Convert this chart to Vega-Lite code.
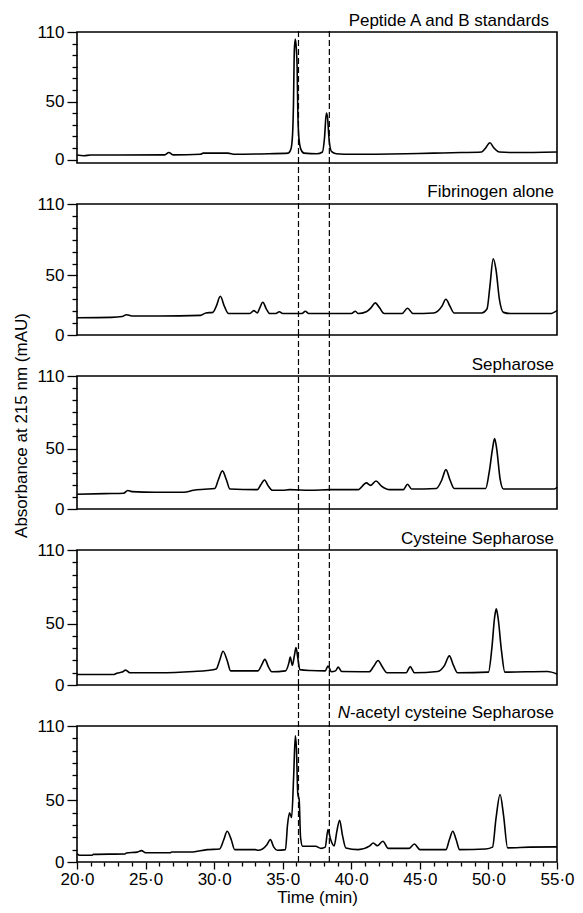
{
  "$schema": "https://vega.github.io/schema/vega-lite/v6.json",
  "autosize": {"type": "pad"},
  "padding": {"left": 12, "top": 11, "right": 2, "bottom": 2},
  "background": "white",
  "bounds": "flush",
  "spacing": 41,
  "config": {
    "font": "Liberation Sans",
    "view": {"stroke": "black", "strokeWidth": 1.6},
    "axis": {"grid": false, "domain": false, "labelFontSize": 17, "labelColor": "black", "tickColor": "black", "tickWidth": 1.3, "titleFontSize": 17, "titleFontWeight": "normal", "titleColor": "black", "labelFlush": false, "labelOverlap": false, "labelBound": false, "labelPadding": 3},
    "axisY": {"tickSize": 10},
    "axisX": {"tickSize": 7},
    "text": {"fontSize": 17, "color": "black", "font": "Liberation Sans"}
  },
  "datasets": {
    "cuts": [{"t": 36.15}, {"t": 38.4}],
    "trace": [
      {"panel": 1, "t": 20, "a": 3.9}, {"panel": 1, "t": 20.5, "a": 3.3}, {"panel": 1, "t": 21, "a": 3.9}, {"panel": 1, "t": 23, "a": 3.9}, {"panel": 1, "t": 26.4, "a": 4}, {"panel": 1, "t": 26.7, "a": 6}, {"panel": 1, "t": 27, "a": 4}, {"panel": 1, "t": 29, "a": 4.5}, {"panel": 1, "t": 29.2, "a": 5.5}, {"panel": 1, "t": 31, "a": 5.5}, {"panel": 1, "t": 31.5, "a": 4.5}, {"panel": 1, "t": 34, "a": 5}, {"panel": 1, "t": 35.4, "a": 5.5}, {"panel": 1, "t": 35.6, "a": 9}, {"panel": 1, "t": 35.72, "a": 22}, {"panel": 1, "t": 35.78, "a": 45}, {"panel": 1, "t": 35.85, "a": 95}, {"panel": 1, "t": 35.92, "a": 104}, {"panel": 1, "t": 35.99, "a": 96}, {"panel": 1, "t": 36.05, "a": 80}, {"panel": 1, "t": 36.1, "a": 42}, {"panel": 1, "t": 36.17, "a": 20}, {"panel": 1, "t": 36.32, "a": 9}, {"panel": 1, "t": 36.55, "a": 5.5}, {"panel": 1, "t": 37.5, "a": 5}, {"panel": 1, "t": 37.9, "a": 6.5}, {"panel": 1, "t": 38.05, "a": 19}, {"panel": 1, "t": 38.18, "a": 40}, {"panel": 1, "t": 38.27, "a": 36}, {"panel": 1, "t": 38.37, "a": 19}, {"panel": 1, "t": 38.55, "a": 7}, {"panel": 1, "t": 38.9, "a": 5}, {"panel": 1, "t": 40, "a": 4.5}, {"panel": 1, "t": 44, "a": 5}, {"panel": 1, "t": 46, "a": 5.5}, {"panel": 1, "t": 48, "a": 6}, {"panel": 1, "t": 49.5, "a": 6.5}, {"panel": 1, "t": 49.8, "a": 10}, {"panel": 1, "t": 50.1, "a": 14.5}, {"panel": 1, "t": 50.4, "a": 10}, {"panel": 1, "t": 50.8, "a": 6.5}, {"panel": 1, "t": 52, "a": 6}, {"panel": 1, "t": 55, "a": 6.5},
      {"panel": 2, "t": 20, "a": 14.5}, {"panel": 2, "t": 22.5, "a": 14.8}, {"panel": 2, "t": 23.3, "a": 15.5}, {"panel": 2, "t": 23.6, "a": 17}, {"panel": 2, "t": 24, "a": 16}, {"panel": 2, "t": 26, "a": 16}, {"panel": 2, "t": 29, "a": 16.5}, {"panel": 2, "t": 29.4, "a": 18.5}, {"panel": 2, "t": 29.9, "a": 19}, {"panel": 2, "t": 30.15, "a": 24}, {"panel": 2, "t": 30.45, "a": 32.5}, {"panel": 2, "t": 30.75, "a": 24}, {"panel": 2, "t": 31.05, "a": 18}, {"panel": 2, "t": 32.6, "a": 18}, {"panel": 2, "t": 32.9, "a": 20.5}, {"panel": 2, "t": 33.15, "a": 18.5}, {"panel": 2, "t": 33.3, "a": 22}, {"panel": 2, "t": 33.55, "a": 27.5}, {"panel": 2, "t": 33.8, "a": 22}, {"panel": 2, "t": 34.05, "a": 18}, {"panel": 2, "t": 34.5, "a": 18}, {"panel": 2, "t": 34.75, "a": 19.5}, {"panel": 2, "t": 35, "a": 18}, {"panel": 2, "t": 36.4, "a": 18}, {"panel": 2, "t": 36.65, "a": 20}, {"panel": 2, "t": 36.9, "a": 18}, {"panel": 2, "t": 40, "a": 18}, {"panel": 2, "t": 40.3, "a": 20}, {"panel": 2, "t": 40.5, "a": 18}, {"panel": 2, "t": 41.1, "a": 19.5}, {"panel": 2, "t": 41.45, "a": 23}, {"panel": 2, "t": 41.75, "a": 27}, {"panel": 2, "t": 42.05, "a": 23}, {"panel": 2, "t": 42.4, "a": 18}, {"panel": 2, "t": 43.7, "a": 18}, {"panel": 2, "t": 44.1, "a": 22.5}, {"panel": 2, "t": 44.5, "a": 18}, {"panel": 2, "t": 46, "a": 18.5}, {"panel": 2, "t": 46.3, "a": 20}, {"panel": 2, "t": 46.6, "a": 24}, {"panel": 2, "t": 46.9, "a": 30}, {"panel": 2, "t": 47.2, "a": 24}, {"panel": 2, "t": 47.5, "a": 18.5}, {"panel": 2, "t": 49.5, "a": 18.5}, {"panel": 2, "t": 49.9, "a": 22}, {"panel": 2, "t": 50.1, "a": 40}, {"panel": 2, "t": 50.35, "a": 64}, {"panel": 2, "t": 50.55, "a": 55}, {"panel": 2, "t": 50.8, "a": 30}, {"panel": 2, "t": 51.1, "a": 19}, {"panel": 2, "t": 51.6, "a": 18}, {"panel": 2, "t": 54.5, "a": 18}, {"panel": 2, "t": 55, "a": 20.5},
      {"panel": 3, "t": 20, "a": 12.2}, {"panel": 3, "t": 22, "a": 12.7}, {"panel": 3, "t": 23.4, "a": 13}, {"panel": 3, "t": 23.7, "a": 15.3}, {"panel": 3, "t": 24, "a": 14.4}, {"panel": 3, "t": 25.7, "a": 13.8}, {"panel": 3, "t": 27.8, "a": 13.8}, {"panel": 3, "t": 28.5, "a": 15.5}, {"panel": 3, "t": 29.3, "a": 16.3}, {"panel": 3, "t": 30.05, "a": 17}, {"panel": 3, "t": 30.3, "a": 24}, {"panel": 3, "t": 30.6, "a": 31.5}, {"panel": 3, "t": 30.9, "a": 24}, {"panel": 3, "t": 31.15, "a": 16.5}, {"panel": 3, "t": 33.15, "a": 16}, {"panel": 3, "t": 33.4, "a": 20}, {"panel": 3, "t": 33.67, "a": 24}, {"panel": 3, "t": 33.95, "a": 19}, {"panel": 3, "t": 34.25, "a": 15.5}, {"panel": 3, "t": 35, "a": 15.5}, {"panel": 3, "t": 35.5, "a": 16}, {"panel": 3, "t": 37, "a": 15.5}, {"panel": 3, "t": 38.5, "a": 16}, {"panel": 3, "t": 40.5, "a": 16}, {"panel": 3, "t": 41.1, "a": 21.6}, {"panel": 3, "t": 41.4, "a": 19.5}, {"panel": 3, "t": 41.8, "a": 23.2}, {"panel": 3, "t": 42.2, "a": 19}, {"panel": 3, "t": 42.8, "a": 16}, {"panel": 3, "t": 43.8, "a": 16}, {"panel": 3, "t": 44.1, "a": 20.5}, {"panel": 3, "t": 44.4, "a": 16.5}, {"panel": 3, "t": 46.2, "a": 17}, {"panel": 3, "t": 46.6, "a": 24}, {"panel": 3, "t": 46.9, "a": 32.6}, {"panel": 3, "t": 47.2, "a": 24}, {"panel": 3, "t": 47.5, "a": 17}, {"panel": 3, "t": 49.8, "a": 17}, {"panel": 3, "t": 50.05, "a": 30}, {"panel": 3, "t": 50.3, "a": 50}, {"panel": 3, "t": 50.45, "a": 58.3}, {"panel": 3, "t": 50.6, "a": 50}, {"panel": 3, "t": 50.85, "a": 25}, {"panel": 3, "t": 51.1, "a": 16.5}, {"panel": 3, "t": 54.8, "a": 16.5}, {"panel": 3, "t": 55, "a": 18},
      {"panel": 4, "t": 20, "a": 8.5}, {"panel": 4, "t": 22.7, "a": 8.6}, {"panel": 4, "t": 22.9, "a": 9.6}, {"panel": 4, "t": 23.3, "a": 10.5}, {"panel": 4, "t": 23.55, "a": 12.1}, {"panel": 4, "t": 23.85, "a": 10}, {"panel": 4, "t": 26, "a": 10}, {"panel": 4, "t": 28.5, "a": 11}, {"panel": 4, "t": 29.5, "a": 11.8}, {"panel": 4, "t": 30.15, "a": 13}, {"panel": 4, "t": 30.4, "a": 20}, {"panel": 4, "t": 30.65, "a": 27.5}, {"panel": 4, "t": 30.95, "a": 20}, {"panel": 4, "t": 31.2, "a": 11.5}, {"panel": 4, "t": 33.2, "a": 11.5}, {"panel": 4, "t": 33.45, "a": 16}, {"panel": 4, "t": 33.7, "a": 20.9}, {"panel": 4, "t": 33.95, "a": 15}, {"panel": 4, "t": 34.2, "a": 10.8}, {"panel": 4, "t": 35.2, "a": 11.5}, {"panel": 4, "t": 35.45, "a": 18}, {"panel": 4, "t": 35.55, "a": 22.8}, {"panel": 4, "t": 35.7, "a": 16}, {"panel": 4, "t": 35.85, "a": 24}, {"panel": 4, "t": 35.97, "a": 30.5}, {"panel": 4, "t": 36.1, "a": 22}, {"panel": 4, "t": 36.25, "a": 12.5}, {"panel": 4, "t": 37, "a": 11.8}, {"panel": 4, "t": 38.1, "a": 11.5}, {"panel": 4, "t": 38.3, "a": 15.4}, {"panel": 4, "t": 38.55, "a": 10.8}, {"panel": 4, "t": 38.85, "a": 11.5}, {"panel": 4, "t": 39.05, "a": 14.6}, {"panel": 4, "t": 39.3, "a": 11}, {"panel": 4, "t": 41.3, "a": 10.8}, {"panel": 4, "t": 41.65, "a": 15.5}, {"panel": 4, "t": 41.95, "a": 20}, {"panel": 4, "t": 42.25, "a": 15}, {"panel": 4, "t": 42.6, "a": 10}, {"panel": 4, "t": 44, "a": 10}, {"panel": 4, "t": 44.3, "a": 15}, {"panel": 4, "t": 44.6, "a": 10}, {"panel": 4, "t": 46.3, "a": 11}, {"panel": 4, "t": 46.8, "a": 16}, {"panel": 4, "t": 47.15, "a": 23.7}, {"panel": 4, "t": 47.45, "a": 16}, {"panel": 4, "t": 47.75, "a": 10}, {"panel": 4, "t": 50, "a": 10.5}, {"panel": 4, "t": 50.25, "a": 30}, {"panel": 4, "t": 50.45, "a": 55}, {"panel": 4, "t": 50.57, "a": 62}, {"panel": 4, "t": 50.7, "a": 55}, {"panel": 4, "t": 50.95, "a": 28}, {"panel": 4, "t": 51.2, "a": 10.5}, {"panel": 4, "t": 54.3, "a": 11}, {"panel": 4, "t": 55, "a": 9},
      {"panel": 5, "t": 20, "a": 6.8}, {"panel": 5, "t": 20.2, "a": 5.4}, {"panel": 5, "t": 21.1, "a": 5.4}, {"panel": 5, "t": 21.2, "a": 6.2}, {"panel": 5, "t": 23.5, "a": 6.5}, {"panel": 5, "t": 23.6, "a": 7.3}, {"panel": 5, "t": 24.4, "a": 8}, {"panel": 5, "t": 24.7, "a": 9.2}, {"panel": 5, "t": 25, "a": 7.5}, {"panel": 5, "t": 26.8, "a": 7.5}, {"panel": 5, "t": 26.9, "a": 8.1}, {"panel": 5, "t": 28.3, "a": 8.1}, {"panel": 5, "t": 29.5, "a": 10}, {"panel": 5, "t": 30.4, "a": 10.5}, {"panel": 5, "t": 30.7, "a": 18}, {"panel": 5, "t": 30.95, "a": 24.9}, {"panel": 5, "t": 31.25, "a": 18}, {"panel": 5, "t": 31.5, "a": 10}, {"panel": 5, "t": 33, "a": 10}, {"panel": 5, "t": 33.2, "a": 9.5}, {"panel": 5, "t": 33.85, "a": 14}, {"panel": 5, "t": 34.1, "a": 18.1}, {"panel": 5, "t": 34.35, "a": 12}, {"panel": 5, "t": 34.6, "a": 9.5}, {"panel": 5, "t": 35.2, "a": 10}, {"panel": 5, "t": 35.35, "a": 30}, {"panel": 5, "t": 35.5, "a": 39.7}, {"panel": 5, "t": 35.65, "a": 36}, {"panel": 5, "t": 35.8, "a": 70}, {"panel": 5, "t": 35.92, "a": 102}, {"panel": 5, "t": 36.0, "a": 92}, {"panel": 5, "t": 36.1, "a": 55}, {"panel": 5, "t": 36.2, "a": 50.5}, {"panel": 5, "t": 36.3, "a": 20}, {"panel": 5, "t": 36.45, "a": 12.7}, {"panel": 5, "t": 37.4, "a": 12.7}, {"panel": 5, "t": 37.8, "a": 11}, {"panel": 5, "t": 38.1, "a": 12}, {"panel": 5, "t": 38.3, "a": 26.2}, {"panel": 5, "t": 38.5, "a": 18}, {"panel": 5, "t": 38.75, "a": 13}, {"panel": 5, "t": 38.95, "a": 25}, {"panel": 5, "t": 39.15, "a": 33.8}, {"panel": 5, "t": 39.35, "a": 22}, {"panel": 5, "t": 39.6, "a": 11.4}, {"panel": 5, "t": 40.5, "a": 10}, {"panel": 5, "t": 41.35, "a": 13}, {"panel": 5, "t": 41.6, "a": 15.4}, {"panel": 5, "t": 41.9, "a": 13.2}, {"panel": 5, "t": 42.3, "a": 16.8}, {"panel": 5, "t": 42.7, "a": 11}, {"panel": 5, "t": 44.2, "a": 11}, {"panel": 5, "t": 44.6, "a": 14.6}, {"panel": 5, "t": 45, "a": 10}, {"panel": 5, "t": 46.9, "a": 10}, {"panel": 5, "t": 47.15, "a": 18}, {"panel": 5, "t": 47.4, "a": 24.9}, {"panel": 5, "t": 47.65, "a": 18}, {"panel": 5, "t": 47.9, "a": 10}, {"panel": 5, "t": 49.8, "a": 10.5}, {"panel": 5, "t": 50.3, "a": 12}, {"panel": 5, "t": 50.55, "a": 35}, {"panel": 5, "t": 50.85, "a": 54.6}, {"panel": 5, "t": 51.1, "a": 38}, {"panel": 5, "t": 51.4, "a": 11.4}, {"panel": 5, "t": 53, "a": 12}, {"panel": 5, "t": 55, "a": 12.2}
    ]
  },
  "vconcat": [
    {
      "width": 480, "height": 131,
      "resolve": {"axis": {"x": "independent", "y": "independent"}},
      "layer": [
        {"data": {"name": "trace"}, "transform": [{"filter": "datum.panel == 1"}],
         "mark": {"type": "line", "color": "black", "strokeWidth": 1.6, "interpolate": "monotone"},
         "encoding": {
           "x": {"field": "t", "type": "quantitative", "scale": {"domain": [20, 55], "nice": false}, "axis": null},
           "y": {"field": "a", "type": "quantitative", "scale": {"domain": [-3, 110], "nice": false, "zero": false},
                 "axis": {"values": [0, 50, 110], "title": null, "orient": "left"}}
         }},
        {"data": {"name": "trace"}, "transform": [{"filter": "datum.panel == 1"}],
         "mark": {"type": "line", "strokeOpacity": 0},
         "encoding": {
           "x": {"field": "t", "type": "quantitative", "axis": null},
           "y": {"field": "a", "type": "quantitative", "axis": {"values": [10, 20, 30, 40, 60, 70, 80, 90, 100], "labels": false, "tickSize": 5, "title": null, "orient": "left"}}
         }},
        {"data": {"name": "cuts"}, "mark": {"type": "rule", "color": "black", "strokeWidth": 1.2, "strokeDash": [6, 3], "clip": false, "y2Offset": -3},
         "encoding": {"x": {"field": "t", "type": "quantitative", "axis": null}, "y": {"datum": -3, "axis": null}, "y2": {"datum": 110}}},
        {"data": {"values": [{"label": "Peptide A and B standards"}]}, "mark": {"type": "text", "align": "right", "baseline": "alphabetic", "dx": -8, "dy": -6, "clip": false},
         "encoding": {"x": {"datum": 55, "axis": null}, "y": {"datum": 110, "axis": null}, "text": {"field": "label"}}}
      ]
    },
    {
      "width": 480, "height": 131,
      "resolve": {"axis": {"x": "independent", "y": "independent"}},
      "layer": [
        {"data": {"name": "trace"}, "transform": [{"filter": "datum.panel == 2"}],
         "mark": {"type": "line", "color": "black", "strokeWidth": 1.6, "interpolate": "monotone"},
         "encoding": {
           "x": {"field": "t", "type": "quantitative", "scale": {"domain": [20, 55], "nice": false}, "axis": null},
           "y": {"field": "a", "type": "quantitative", "scale": {"domain": [0, 110], "nice": false, "zero": false},
                 "axis": {"values": [0, 50, 110], "title": null, "orient": "left"}}
         }},
        {"data": {"name": "trace"}, "transform": [{"filter": "datum.panel == 2"}],
         "mark": {"type": "line", "strokeOpacity": 0},
         "encoding": {
           "x": {"field": "t", "type": "quantitative", "axis": null},
           "y": {"field": "a", "type": "quantitative", "axis": {"values": [10, 20, 30, 40, 60, 70, 80, 90, 100], "labels": false, "tickSize": 5, "title": null, "orient": "left"}}
         }},
        {"data": {"name": "cuts"}, "mark": {"type": "rule", "color": "black", "strokeWidth": 1.2, "strokeDash": [6, 3], "clip": false, "y2Offset": -41},
         "encoding": {"x": {"field": "t", "type": "quantitative", "axis": null}, "y": {"datum": 0, "axis": null}, "y2": {"datum": 110}}},
        {"data": {"values": [{"label": "Fibrinogen alone"}]}, "mark": {"type": "text", "align": "right", "baseline": "alphabetic", "dx": -3, "dy": -7, "clip": false},
         "encoding": {"x": {"datum": 55, "axis": null}, "y": {"datum": 110, "axis": null}, "text": {"field": "label"}}}
      ]
    },
    {
      "width": 480, "height": 133,
      "resolve": {"axis": {"x": "independent", "y": "independent"}},
      "layer": [
        {"data": {"name": "trace"}, "transform": [{"filter": "datum.panel == 3"}],
         "mark": {"type": "line", "color": "black", "strokeWidth": 1.6, "interpolate": "monotone"},
         "encoding": {
           "x": {"field": "t", "type": "quantitative", "scale": {"domain": [20, 55], "nice": false}, "axis": null},
           "y": {"field": "a", "type": "quantitative", "scale": {"domain": [0, 110], "nice": false, "zero": false},
                 "axis": {"values": [0, 50, 110], "title": "Absorbance at 215 nm (mAU)", "titlePadding": 6, "titleY": 49, "orient": "left"}}
         }},
        {"data": {"name": "trace"}, "transform": [{"filter": "datum.panel == 3"}],
         "mark": {"type": "line", "strokeOpacity": 0},
         "encoding": {
           "x": {"field": "t", "type": "quantitative", "axis": null},
           "y": {"field": "a", "type": "quantitative", "axis": {"values": [10, 20, 30, 40, 60, 70, 80, 90, 100], "labels": false, "tickSize": 5, "title": null, "orient": "left"}}
         }},
        {"data": {"name": "cuts"}, "mark": {"type": "rule", "color": "black", "strokeWidth": 1.2, "strokeDash": [6, 3], "clip": false, "y2Offset": -41},
         "encoding": {"x": {"field": "t", "type": "quantitative", "axis": null}, "y": {"datum": 0, "axis": null}, "y2": {"datum": 110}}},
        {"data": {"values": [{"label": "Sepharose"}]}, "mark": {"type": "text", "align": "right", "baseline": "alphabetic", "dx": -3, "dy": -6, "clip": false},
         "encoding": {"x": {"datum": 55, "axis": null}, "y": {"datum": 110, "axis": null}, "text": {"field": "label"}}}
      ]
    },
    {
      "width": 480, "height": 135,
      "resolve": {"axis": {"x": "independent", "y": "independent"}},
      "layer": [
        {"data": {"name": "trace"}, "transform": [{"filter": "datum.panel == 4"}],
         "mark": {"type": "line", "color": "black", "strokeWidth": 1.6, "interpolate": "monotone"},
         "encoding": {
           "x": {"field": "t", "type": "quantitative", "scale": {"domain": [20, 55], "nice": false}, "axis": null},
           "y": {"field": "a", "type": "quantitative", "scale": {"domain": [0, 110], "nice": false, "zero": false},
                 "axis": {"values": [0, 50, 110], "title": null, "orient": "left"}}
         }},
        {"data": {"name": "trace"}, "transform": [{"filter": "datum.panel == 4"}],
         "mark": {"type": "line", "strokeOpacity": 0},
         "encoding": {
           "x": {"field": "t", "type": "quantitative", "axis": null},
           "y": {"field": "a", "type": "quantitative", "axis": {"values": [10, 20, 30, 40, 60, 70, 80, 90, 100], "labels": false, "tickSize": 5, "title": null, "orient": "left"}}
         }},
        {"data": {"name": "cuts"}, "mark": {"type": "rule", "color": "black", "strokeWidth": 1.2, "strokeDash": [6, 3], "clip": false, "y2Offset": -41},
         "encoding": {"x": {"field": "t", "type": "quantitative", "axis": null}, "y": {"datum": 0, "axis": null}, "y2": {"datum": 110}}},
        {"data": {"values": [{"label": "Cysteine Sepharose"}]}, "mark": {"type": "text", "align": "right", "baseline": "alphabetic", "dx": -3, "dy": -6, "clip": false},
         "encoding": {"x": {"datum": 55, "axis": null}, "y": {"datum": 110, "axis": null}, "text": {"field": "label"}}}
      ]
    },
    {
      "width": 480, "height": 136,
      "resolve": {"axis": {"x": "independent", "y": "independent"}},
      "layer": [
        {"data": {"name": "trace"}, "transform": [{"filter": "datum.panel == 5"}],
         "mark": {"type": "line", "color": "black", "strokeWidth": 1.6, "interpolate": "monotone"},
         "encoding": {
           "x": {"field": "t", "type": "quantitative", "scale": {"domain": [20, 55], "nice": false},
                 "axis": {"values": [20, 25, 30, 35, 40, 45, 50, 55], "title": "Time (min)", "titlePadding": 2, "labelPadding": 2, "orient": "bottom",
                          "labelExpr": "replace(format(datum.value, '.1f'), '.', '·')"}},
           "y": {"field": "a", "type": "quantitative", "scale": {"domain": [0, 110], "nice": false, "zero": false},
                 "axis": {"values": [0, 50, 110], "title": null, "orient": "left"}}
         }},
        {"data": {"name": "trace"}, "transform": [{"filter": "datum.panel == 5"}],
         "mark": {"type": "line", "strokeOpacity": 0},
         "encoding": {
           "x": {"field": "t", "type": "quantitative",
                 "axis": {"values": [21, 22, 23, 24, 26, 27, 28, 29, 31, 32, 33, 34, 36, 37, 38, 39, 41, 42, 43, 44, 46, 47, 48, 49, 51, 52, 53, 54], "labels": false, "tickSize": 4, "title": null, "orient": "bottom"}},
           "y": {"field": "a", "type": "quantitative", "axis": {"values": [10, 20, 30, 40, 60, 70, 80, 90, 100], "labels": false, "tickSize": 5, "title": null, "orient": "left"}}
         }},
        {"data": {"name": "cuts"}, "mark": {"type": "rule", "color": "black", "strokeWidth": 1.2, "strokeDash": [6, 3], "clip": false, "y2Offset": -41},
         "encoding": {"x": {"field": "t", "type": "quantitative", "axis": null}, "y": {"datum": 0, "axis": null}, "y2": {"datum": 110}}},
        {"data": {"values": [{"label": "-acetyl cysteine Sepharose"}]}, "mark": {"type": "text", "align": "right", "baseline": "alphabetic", "dx": -3, "dy": -8, "clip": false},
         "encoding": {"x": {"datum": 55, "axis": null}, "y": {"datum": 110, "axis": null}, "text": {"field": "label"}}},
        {"data": {"values": [{"label": "N"}]}, "mark": {"type": "text", "align": "right", "baseline": "alphabetic", "fontStyle": "italic", "dx": -207, "dy": -8, "clip": false},
         "encoding": {"x": {"datum": 55, "axis": null}, "y": {"datum": 110, "axis": null}, "text": {"field": "label"}}}
      ]
    }
  ]
}
